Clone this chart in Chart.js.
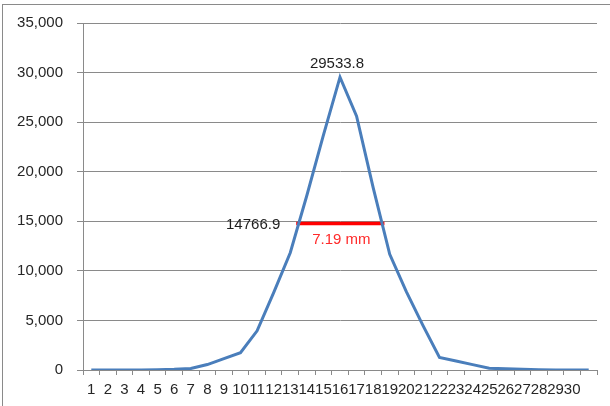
<!DOCTYPE html>
<html>
<head>
<meta charset="utf-8">
<script src="https://cdn.jsdelivr.net/npm/chart.js@4"></script>
<style>
  body { margin: 0; background: #fff; }
  #wrap { position: relative; width: 610px; height: 406px; }
  #frame { position: absolute; left: 2px; top: 4px; right: -2px; bottom: -2px;
           border-left: 1px solid #8a8a8a; border-top: 1px solid #8a8a8a; pointer-events: none; }
</style>
</head>
<body>
<div id="wrap">
  <canvas id="chart" width="610" height="406"></canvas>
  <div id="frame"></div>
</div>
<script>
// categories along the x axis (the 31st has no label)
const categories = ['1','2','3','4','5','6','7','8','9','10','11','12','13','14','15',
  '16','17','18','19','20','21','22','23','24','25','26','27','28','29','30',''];

// intensity profile
const intensity = [0, 0, 0, 10, 30, 70, 150, 550, 1150, 1750, 3950, 7800, 11830, 17600, 23700,
  29533.8, 25600, 18400, 11670, 7900, 4500, 1270, 900, 540, 170, 120, 80, 30, 10, 0, 0];

// half maximum level and where the red bar starts / ends (category units)
const halfMax = [14766.9, 14766.9];
const halfRange = [13.36, 18.68];
const widthLabel = '7.19 mm';

const yTicks = [0, 5000, 10000, 15000, 20000, 25000, 30000, 35000];

const peak = Math.max(...intensity)
const peakIdx = intensity.indexOf(peak)

const labelsPlugin = {
  id: 'peakLabels',
  afterDatasetsDraw(chart) {
    const ctx = chart.ctx
    const xs = chart.scales.x, ys = chart.scales.y, x2 = chart.scales.x2
    ctx.save()
    ctx.font = '15px "Liberation Sans", Arial, sans-serif'
    ctx.textBaseline = 'middle'
    // peak value
    ctx.fillStyle = '#1f1f1f'
    ctx.textAlign = 'center'
    ctx.fillText(String(peak), xs.getPixelForValue(peakIdx) - 3, ys.getPixelForValue(peak) - 13)
    // half max value
    ctx.textAlign = 'right'
    ctx.fillText(String(halfMax[0]), x2.getPixelForValue(halfRange[0]) - 16, ys.getPixelForValue(halfMax[0]) + 1)
    // width
    ctx.fillStyle = '#ff2a2a'
    ctx.textAlign = 'center'
    const mid = (halfRange[0] + halfRange[1]) / 2
    ctx.fillText(widthLabel, x2.getPixelForValue(mid) + 1, ys.getPixelForValue(halfMax[0]) + 16)
    ctx.restore()
  }
}

const ctx = document.getElementById('chart').getContext('2d')
new Chart(ctx, {
  type: 'line',
  data: {
    labels: categories,
    datasets: [{
      data: intensity,
      borderColor: '#4a7ebb',
      borderWidth: 3,
      pointRadius: 0,
      tension: 0,
      xAxisID: 'x',
    }, {
      data: halfRange.map((x, i) => ({ x: x, y: halfMax[i] })),
      borderColor: '#ff0000',
      borderWidth: 3.5,
      pointRadius: 0,
      xAxisID: 'x2',
    }]
  },
  options: {
    responsive: false,
    animation: false,
    layout: { padding: { top: 22, left: 0, right: 13, bottom: 0 } },
    plugins: { legend: { display: false }, tooltip: { enabled: false } },
    scales: {
      x: {
        type: 'category',
        offset: true,
        grid: { offset: true, drawOnChartArea: false, drawTicks: true, tickLength: 5, color: '#8a8a8a' },
        border: { display: true, color: '#8a8a8a' },
        ticks: {
          autoSkip: false, maxRotation: 0, minRotation: 0, padding: 6,
          color: '#262626', font: { family: '"Liberation Sans", Arial, sans-serif', size: 15 }
        },
        afterFit: s => { s.height = 36 }
      },
      x2: {
        type: 'linear',
        display: false,
        min: 0.5,
        max: categories.length + 0.5,
      },
      y: {
        min: 0,
        max: 35000,
        afterBuildTicks: s => { s.ticks = yTicks.map(v => ({ value: v })) },
        grid: { color: '#8a8a8a', tickLength: 6 },
        border: { display: true, color: '#8a8a8a' },
        ticks: {
          padding: 14,
          color: '#262626',
          font: { family: '"Liberation Sans", Arial, sans-serif', size: 15 },
          callback: v => v.toLocaleString('en-US')
        },
        afterFit: s => { s.width = 83 }
      }
    }
  },
  plugins: [labelsPlugin]
})
</script>
</body>
</html>
